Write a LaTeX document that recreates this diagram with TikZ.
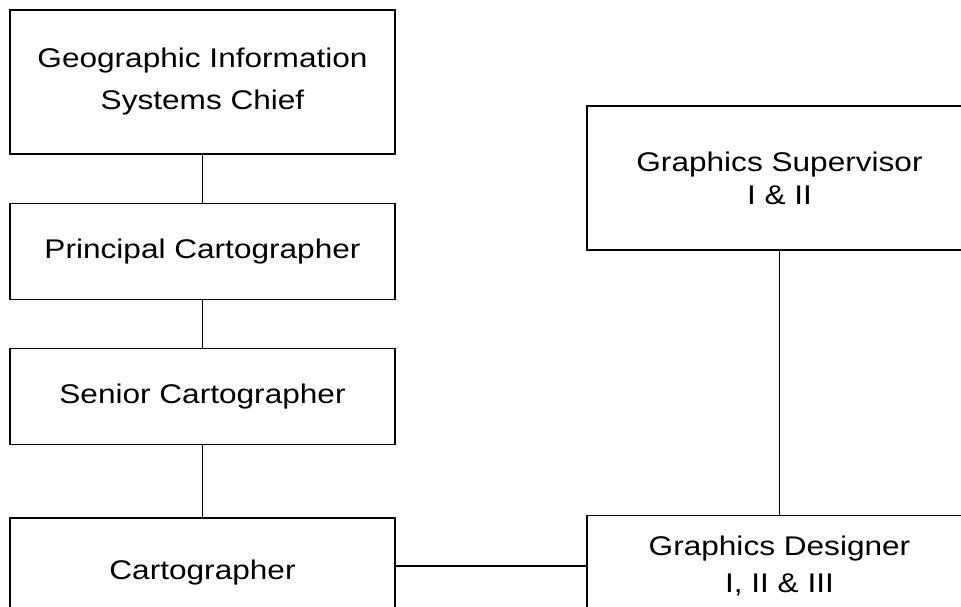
\documentclass[tikz,border=0pt]{standalone}
\usepackage{fontspec}
\setmainfont{Liberation Sans}[FakeStretch=1.17]
\usetikzlibrary{positioning}
\tikzset{
  post/.style={draw,line width=1.3pt,minimum width=385pt,align=center,
               inner sep=0pt,font=\fontsize{27}{37}\selectfont},
  link/.style={line width=1.3pt}
}

\begin{document}
\begin{tikzpicture}[x=1pt,y=1pt]
  \useasboundingbox (0,0) rectangle (961,607);
  \clip (0,0) rectangle (961,607);

  %,  Cartography line, 
  \node[post,minimum height=144pt] (chief) at (202.5,525)
    {Geographic Information\\[5pt]Systems Chief};
  \node[post,minimum height=96pt,below=48pt of chief] (principal)
    {Principal Cartographer};
  \node[post,minimum height=96pt,below=48pt of principal] (senior)
    {Senior Cartographer};
  \node[post,minimum height=96pt,below=72pt of senior] (carto)
    {\raisebox{-14pt}[0pt][0pt]{Cartographer}};

  %,  Graphics line, 
  \node[post,minimum height=144pt] (super) at (779.5,429)
    {Graphics Supervisor\\[-4pt]I \& II};
  \node[post,minimum height=102pt,below=264pt of super] (designer)
    {Graphics Designer\\I, II \& III};

  %,  Links, 
  \draw[link] (chief) -- (principal);
  \draw[link] (principal) -- (senior);
  \draw[link] (senior) -- (carto);
  \draw[link] (super) -- (designer);
  \draw[link] (carto.east) -- (carto.east -| designer.west);

\end{tikzpicture}
\end{document}
